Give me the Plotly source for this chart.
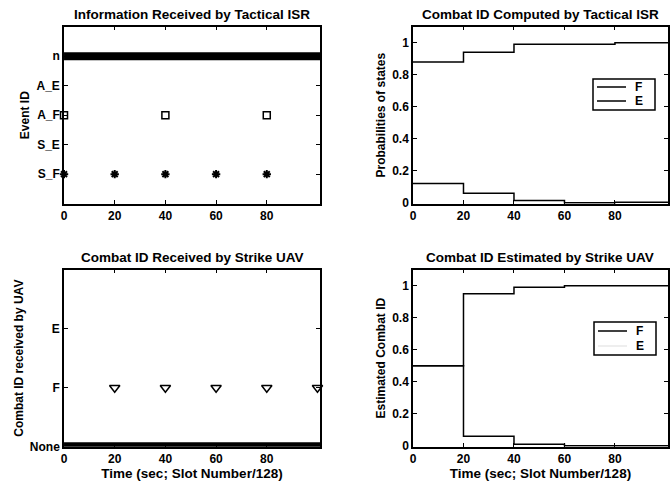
import plotly.graph_objects as go

# ---------------- data ----------------
event_labels = ["S_F", "S_E", "A_F", "A_E", "n"]
event_vals = [1, 2, 3, 4, 5]

n_x = [0, 101]
n_y = [5, 5]
af_x = [0, 40, 80]
af_y = [3, 3, 3]
sf_x = [0, 20, 40, 60, 80]
sf_y = [1, 1, 1, 1, 1]

step_t = [0, 20, 40, 60, 80, 101]
isr_F = [0.88, 0.94, 0.99, 0.99, 1.0, 1.0]
isr_E = [0.12, 0.06, 0.015, 0.0, 0.003, 0.003]

uav_labels = ["None", "F", "E"]
uav_vals = [0, 1, 2]
none_x = [0, 101]
none_y = [0, 0]
recvF_x = [20, 40, 60, 80, 100]
recvF_y = [1, 1, 1, 1, 1]

est_F = [0.5, 0.95, 0.99, 1.0, 1.0, 1.0]
est_E = [0.5, 0.06, 0.01, 0.0, 0.0, 0.0]

xticks = [0, 20, 40, 60, 80]
legend_names = ["F", "E"]

# ---------------- figure ----------------
W, H = 671, 486
fig = go.Figure()
FONT = "Liberation Sans"
BLACK = "black"
TF = dict(family=FONT, size=12, color=BLACK, weight="bold")
AT = dict(family=FONT, size=12, color=BLACK, weight="bold")
XT = dict(family=FONT, size=13.5, color=BLACK, weight="bold")
LF = dict(family=FONT, size=12, color=BLACK, weight="bold")

def axis_common(**kw):
    d = dict(showline=True, linecolor=BLACK, linewidth=1.5, mirror="ticks",
             ticks="inside", ticklen=4, tickcolor=BLACK, showgrid=False,
             zeroline=False, automargin=False, tickfont=TF)
    d.update(kw)
    return d

# Top-left
fig.add_trace(go.Scatter(x=n_x, y=n_y, mode="lines", line=dict(color=BLACK, width=8),
                         xaxis="x", yaxis="y", showlegend=False))
fig.add_trace(go.Scatter(x=af_x, y=af_y, mode="markers",
                         marker=dict(symbol="square-open", size=7, color=BLACK, line=dict(width=1.5)),
                         xaxis="x", yaxis="y", showlegend=False, cliponaxis=False))
fig.add_trace(go.Scatter(x=sf_x, y=sf_y, mode="markers",
                         marker=dict(symbol="asterisk-open", size=7, color=BLACK, line=dict(width=2, color=BLACK)),
                         xaxis="x", yaxis="y", showlegend=False, cliponaxis=False))

# Top-right
for vals, nm in zip([isr_F, isr_E], legend_names):
    fig.add_trace(go.Scatter(x=step_t, y=vals, mode="lines", line=dict(color=BLACK, width=1.5, shape="hv"),
                             name=nm, xaxis="x2", yaxis="y2", showlegend=False))

# Bottom-left
fig.add_trace(go.Scatter(x=none_x, y=none_y, mode="lines", line=dict(color=BLACK, width=9),
                         xaxis="x3", yaxis="y3", showlegend=False))
fig.add_trace(go.Scatter(x=recvF_x, y=recvF_y, mode="markers",
                         marker=dict(symbol="triangle-down-open", size=9, color=BLACK, line=dict(width=1.5)),
                         xaxis="x3", yaxis="y3", showlegend=False, cliponaxis=False))

# Bottom-right
for vals, nm in zip([est_F, est_E], legend_names):
    fig.add_trace(go.Scatter(x=step_t, y=vals, mode="lines", line=dict(color=BLACK, width=1.5, shape="hv"),
                             name=nm, xaxis="x4", yaxis="y4", showlegend=False))

XL = [0.0954, 0.4769]
XR = [0.6155, 0.9955]
YT = [0.581, 0.945]
YB = [0.081, 0.445]
XR_RANGE = [0, 101]

fig.update_layout(
    width=W, height=H, margin=dict(l=0, r=0, t=0, b=0),
    paper_bgcolor="white", plot_bgcolor="white",
    font=dict(family=FONT, color=BLACK),
    xaxis=axis_common(domain=XL, anchor="y", range=XR_RANGE, tickvals=xticks),
    yaxis=axis_common(domain=YT, anchor="x", range=[0, 6], tickvals=event_vals, ticktext=event_labels,
                      title=dict(text="Event ID", font=AT, standoff=4)),
    xaxis2=axis_common(domain=XR, anchor="y2", range=XR_RANGE, tickvals=xticks),
    yaxis2=axis_common(domain=YT, anchor="x2", range=[-0.005, 1.1], tickvals=[0, 0.2, 0.4, 0.6, 0.8, 1],
                       ticktext=["0", "0.2", "0.4", "0.6", "0.8", "1"],
                       title=dict(text="Probabilities of states", font=AT, standoff=4)),
    xaxis3=axis_common(domain=XL, anchor="y3", range=XR_RANGE, tickvals=xticks,
                       title=dict(text="Time (sec; Slot Number/128)", font=XT, standoff=1)),
    yaxis3=axis_common(domain=YB, anchor="x3", range=[0, 3], tickvals=uav_vals, ticktext=uav_labels,
                       title=dict(text="Combat ID received by UAV", font=AT, standoff=4)),
    xaxis4=axis_common(domain=XR, anchor="y4", range=XR_RANGE, tickvals=xticks,
                       title=dict(text="Time (sec; Slot Number/128)", font=XT, standoff=1)),
    yaxis4=axis_common(domain=YB, anchor="x4", range=[-0.005, 1.1], tickvals=[0, 0.2, 0.4, 0.6, 0.8, 1],
                       ticktext=["0", "0.2", "0.4", "0.6", "0.8", "1"],
                       title=dict(text="Estimated Combat ID", font=AT, standoff=4)),
)

# Compact MATLAB-style legend boxes (pixel layout -> paper coords)
def px(x):
    return x / W

def py(y):
    return 1 - y / H

def add_legend(box, rows, line_colors):
    x0, y0, x1, y1 = box
    fig.add_shape(type="rect", xref="paper", yref="paper", x0=px(x0), x1=px(x1), y0=py(y1), y1=py(y0),
                  line=dict(color=BLACK, width=1.5), fillcolor="white", layer="above")
    for (ry, name), col in zip(rows, line_colors):
        if col is not None:
            fig.add_shape(type="line", xref="paper", yref="paper", x0=px(x0 + 4), x1=px(x0 + 33),
                          y0=py(ry), y1=py(ry), line=dict(color=col, width=1.5), layer="above")
        fig.add_annotation(text=name, x=px(x0 + 40), y=py(ry), xref="paper", yref="paper",
                           xanchor="left", yanchor="middle", showarrow=False, font=LF)

add_legend((593, 79, 655, 110), [(87, legend_names[0]), (101, legend_names[1])], [BLACK, BLACK])
add_legend((594, 322, 656, 355), [(331, legend_names[0]), (346, legend_names[1])], [BLACK, "#e8e8e8"])

titles = [
    ("Information Received by Tactical ISR", sum(XL) / 2, YT[1]),
    ("Combat ID Computed by Tactical ISR", sum(XR) / 2, YT[1]),
    ("Combat ID Received by Strike UAV", sum(XL) / 2, YB[1]),
    ("Combat ID Estimated by Strike UAV", sum(XR) / 2, YB[1]),
]
for txt, x, y in titles:
    fig.add_annotation(text=txt, x=x, y=y, xref="paper", yref="paper",
                       xanchor="center", yanchor="bottom", yshift=3, showarrow=False,
                       font=XT)

fig.write_html("out.html", config={"displayModeBar": False},
               post_script="document.body.style.margin='0';document.body.style.overflow='hidden';")
